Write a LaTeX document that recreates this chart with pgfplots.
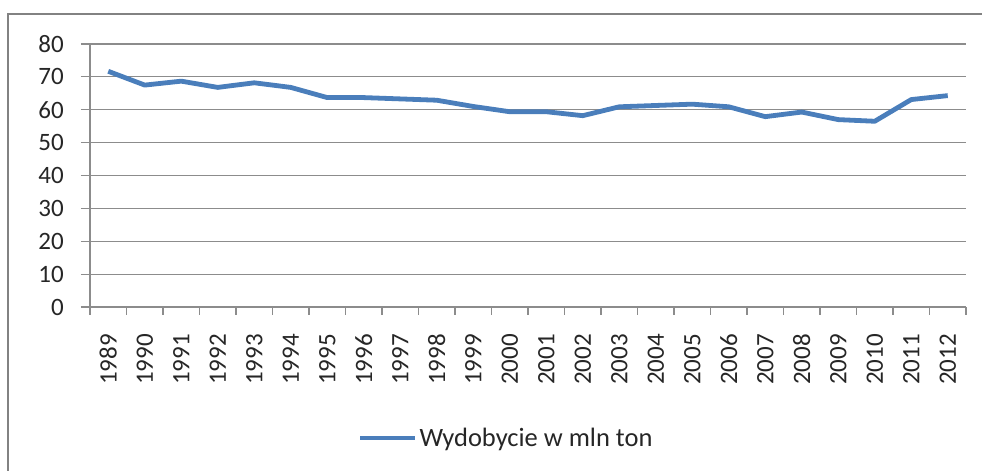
\documentclass[border=0pt]{standalone}
\usepackage{pgfplots}
\pgfplotsset{compat=1.18}
\usepackage{fontspec}
\setmainfont{Carlito}
\definecolor{linblue}{HTML}{4A7EBB}
\definecolor{gridgray}{HTML}{8C8C8C}
\definecolor{framegray}{HTML}{828282}
\begin{document}
\begin{tikzpicture}
\useasboundingbox (0,0) rectangle (982bp,471bp);
\draw[framegray, line width=1.8bp] (8bp,-10bp) -- (8bp,457bp) -- (1000bp,457bp);
\begin{axis}[
  at={(90bp,164bp)}, anchor=south west,
  scale only axis, width=876bp, height=263bp,
  xmin=-0.5, xmax=23.5, ymin=0, ymax=80,
  axis lines*=left,
  axis line style={gridgray, line width=1.2bp},
  xtick={0,...,23},
  xticklabels={1989,1990,1991,1992,1993,1994,1995,1996,1997,1998,1999,2000,2001,2002,2003,2004,2005,2006,2007,2008,2009,2010,2011,2012},
  minor xtick={-0.5,0.5,...,23.5},
  ytick={0,10,...,80},
  ymajorgrids,
  grid style={gridgray, line width=1.2bp},
  tick align=outside,
  major tick length=9bp, minor tick length=8bp,
  major x tick style={draw=none},
  minor x tick style={gridgray, line width=1.2bp},
  major y tick style={gridgray, line width=1.2bp},
  /pgf/number format/assume math mode=true,
  tick label style={font=\fontsize{25bp}{30bp}\selectfont, text=black!85},
  yticklabel style={anchor=east, inner sep=0pt, xshift=-17bp},
  xticklabel style={yshift=-18bp, rotate=90, anchor=east, inner sep=0pt},
  legend style={at={(0.475,-0.498)}, anchor=center, draw=none, fill=none,
    font=\fontsize{26.5bp}{31bp}\selectfont, text=black!85,
    nodes={inner sep=2bp}},
  legend image code/.code={\draw[#1] (0bp,0bp) -- (55bp,0bp);},
]
\addplot[linblue, line width=4.8bp, line join=round] coordinates {
(0,71.7) (1,67.5) (2,68.7) (3,66.8) (4,68.2) (5,66.8) (6,63.7) (7,63.7)
(8,63.3) (9,62.9) (10,61.0) (11,59.4) (12,59.4) (13,58.2) (14,60.9) (15,61.3)
(16,61.7) (17,60.9) (18,57.9) (19,59.3) (20,57.0) (21,56.5) (22,63.1) (23,64.3)
};
\addlegendentry{Wydobycie w mln ton}
\end{axis}
\end{tikzpicture}
\end{document}
